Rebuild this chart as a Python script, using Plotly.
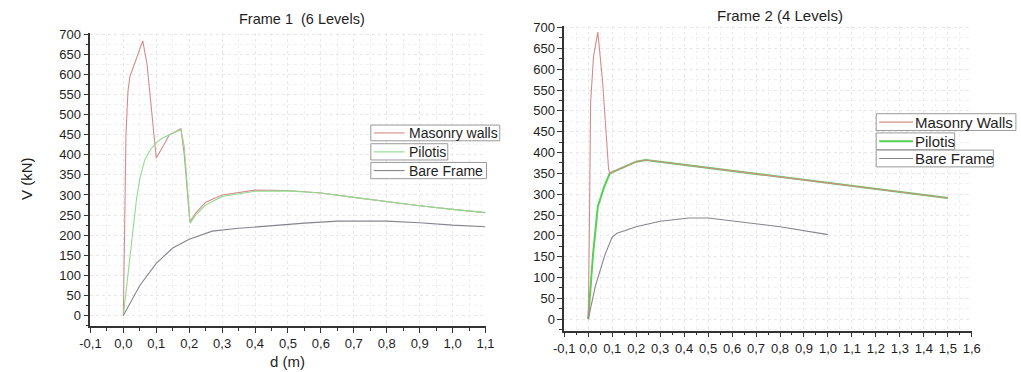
import plotly.graph_objects as go

W, H = 1021, 372

# ---- Frame 1 (6 levels) ----
f1_masonry_d = [0, 0.004, 0.008, 0.014, 0.02, 0.029, 0.045, 0.059, 0.072, 0.085, 0.1,
                0.12, 0.14, 0.16, 0.175, 0.185, 0.195, 0.202, 0.22, 0.25, 0.3, 0.4,
                0.5, 0.6, 0.7, 0.8, 0.9, 1.0, 1.1]
f1_masonry_v = [0, 230, 450, 558, 595, 615, 650, 683, 625, 520, 392,
                420, 450, 458, 465, 400, 290, 233, 255, 282, 300, 312,
                311, 305, 294, 283, 273, 264, 256]

f1_pilotis_d = [0, 0.02, 0.04, 0.05, 0.065, 0.08, 0.1, 0.12, 0.14, 0.16, 0.175,
                0.185, 0.195, 0.203, 0.22, 0.25, 0.3, 0.4, 0.5, 0.6, 0.7, 0.8,
                0.9, 1.0, 1.1]
f1_pilotis_v = [0, 140, 290, 340, 387, 410, 430, 442, 450, 457, 462,
                420, 300, 230, 250, 275, 296, 309, 310, 305, 294, 283,
                273, 264, 256]

f1_bare_d = [0, 0.02, 0.05, 0.1, 0.15, 0.2, 0.27, 0.35, 0.45, 0.55, 0.65, 0.75,
             0.8, 0.9, 1.0, 1.1]
f1_bare_v = [0, 30, 75, 130, 168, 190, 210, 217, 224, 230, 235, 236,
             235, 231, 225, 221]

# ---- Frame 2 (4 levels) ----
f2_masonry_d = [0, 0.003, 0.005, 0.01, 0.022, 0.04, 0.06, 0.085, 0.09, 0.15, 0.2,
                0.24, 1.5]
f2_masonry_v = [0, 100, 220, 520, 630, 689, 570, 360, 350, 365, 378,
                382, 291]

f2_pilotis_d = [0, 0.02, 0.04, 0.065, 0.09, 0.15, 0.2, 0.24, 1.5]
f2_pilotis_v = [0, 155, 270, 315, 350, 365, 378, 382, 291]

f2_bare_d = [0, 0.03, 0.07, 0.1, 0.12, 0.2, 0.3, 0.42, 0.5, 0.6, 0.8, 1.0]
f2_bare_v = [0, 80, 155, 197, 206, 222, 235, 243, 243, 236, 222, 203]

# ---- labels ----
f1_names = ["Masonry walls", "Pilotis", "Bare Frame"]
f2_names = ["Masonry Walls", "Pilotis", "Bare Frame"]
f1_title = "Frame 1  (6 Levels)"
f2_title = "Frame 2 (4 Levels)"
y_label = "V (kN)"
x_label = "d (m)"

y_ticks = list(range(0, 701, 50))
y_ticktext = [str(v) for v in y_ticks]
x1_ticks = [-0.1, 0.0, 0.1, 0.2, 0.3, 0.4, 0.5, 0.6, 0.7, 0.8, 0.9, 1.0, 1.1]
x1_ticktext = ["-0,1", "0,0", "0,1", "0,2", "0,3", "0,4", "0,5", "0,6", "0,7",
               "0,8", "0,9", "1,0", "1,1"]
x2_ticks = [-0.1, 0.0, 0.1, 0.2, 0.3, 0.4, 0.5, 0.6, 0.7, 0.8, 0.9, 1.0, 1.1,
            1.2, 1.3, 1.4, 1.5, 1.6]
x2_ticktext = ["-0,1", "0,0", "0,1", "0,2", "0,3", "0,4", "0,5", "0,6", "0,7",
               "0,8", "0,9", "1,0", "1,1", "1,2", "1,3", "1,4", "1,5", "1,6"]

# ---- styles ----
FONT = "Liberation Sans, Arial, sans-serif"
TXT = "#1e1e1e"
RED = "#d68a8a"
GREEN1 = "#8fdc8f"
GREEN2 = "#55d055"
GRAY = "#85858f"
colors1 = [RED, GREEN1, GRAY]
colors2 = [RED, GREEN2, GRAY]
widths1 = [1.1, 1.1, 1.1]
widths2 = [1.1, 2.0, 1.1]


def px_x(p):
    return p / W


def px_y(p):
    return 1 - p / H


fig = go.Figure()

series1 = [(f1_masonry_d, f1_masonry_v), (f1_pilotis_d, f1_pilotis_v), (f1_bare_d, f1_bare_v)]
series2 = [(f2_pilotis_d, f2_pilotis_v), (f2_masonry_d, f2_masonry_v), (f2_bare_d, f2_bare_v)]
order2 = [1, 0, 2]

for (d, v), name, c, w in zip(series1, f1_names, colors1, widths1):
    fig.add_trace(go.Scatter(x=d, y=v, mode="lines", name=name,
                             line=dict(color=c, width=w), xaxis="x", yaxis="y",
                             showlegend=False))
for (d, v), k in zip(series2, order2):
    fig.add_trace(go.Scatter(x=d, y=v, mode="lines", name=f2_names[k],
                             line=dict(color=colors2[k], width=widths2[k]),
                             xaxis="x2", yaxis="y2", showlegend=False))

grid = dict(showgrid=True, gridcolor="#e8e8e8", griddash="dot", gridwidth=1,
            zeroline=False, showline=True, linecolor="#333333", linewidth=1.5,
            ticks="outside", ticklen=5, tickwidth=1, tickcolor="#333333",
            tickfont=dict(family=FONT, size=13, color=TXT))


def axis(domain, rng, tickvals, ticktext, minor_dtick, anchor):
    a = dict(grid)
    a.update(domain=domain, range=rng, tickvals=tickvals, ticktext=ticktext,
             anchor=anchor,
             minor=dict(dtick=minor_dtick, ticks="outside", ticklen=3,
                        tickcolor="#333333", showgrid=True,
                        gridcolor="#f0f0f0", griddash="dot"))
    return a


fig.update_layout(
    width=W, height=H, margin=dict(l=0, r=0, t=0, b=0),
    paper_bgcolor="white", plot_bgcolor="white",
    xaxis=axis([px_x(81), px_x(484)], [-0.1, 1.1], x1_ticks, x1_ticktext, 0.05, "y"),
    yaxis=axis([px_y(325.3), px_y(27.3)], [-26, 703], y_ticks, y_ticktext, 25, "x"),
    xaxis2=axis([px_x(564.3), px_x(980)], [-0.1, 1.6], x2_ticks, x2_ticktext, 0.05, "y2"),
    yaxis2=axis([px_y(330), px_y(20.2)], [-27.6, 704], y_ticks, y_ticktext, 25, "x2"),
)

annotations = []
shapes = []


def text(x, y, s, size, xanchor="center", angle=0):
    annotations.append(dict(x=px_x(x), y=px_y(y), xref="paper", yref="paper",
                            text=s, showarrow=False, xanchor=xanchor,
                            yanchor="middle", textangle=angle,
                            font=dict(family=FONT, size=size, color=TXT)))


text(297, 13, f1_title, 14.5)
text(784, 10, f2_title, 15)
text(15, 175, y_label, 15, angle=-90)
text(282, 361, x_label, 15)

# boxed legend entries: (left, top, right, bottom)
leg1 = [(367, 121, 498.5, 137), (367, 140, 445.5, 156.5), (367, 159, 485, 175.5)]
leg2 = [(882.5, 109.5, 1025, 126.5), (882.5, 129, 962.5, 146), (882.5, 146.5, 1002, 163.5)]


def legend(boxes, names, cols, ws, line_end, text_x, size):
    for (l, t, r, b), n, c, w in zip(boxes, names, cols, ws):
        shapes.append(dict(type="rect", xref="paper", yref="paper",
                           x0=px_x(l), x1=px_x(r), y0=px_y(b), y1=px_y(t),
                           line=dict(color="#9a9a9a", width=1),
                           fillcolor="white", layer="above"))
        ym = (t + b) / 2
        shapes.append(dict(type="line", xref="paper", yref="paper",
                           x0=px_x(l + 3), x1=px_x(line_end), y0=px_y(ym), y1=px_y(ym),
                           line=dict(color=c, width=w), layer="above"))
        text(text_x, ym, n, size, xanchor="left")


legend(leg1, f1_names, colors1, widths1, 401.5, 403.5, 14)
legend(leg2, f2_names, colors2, widths2, 920, 920, 15)

fig.update_layout(annotations=annotations, shapes=shapes)

fig.write_html("out.html")
